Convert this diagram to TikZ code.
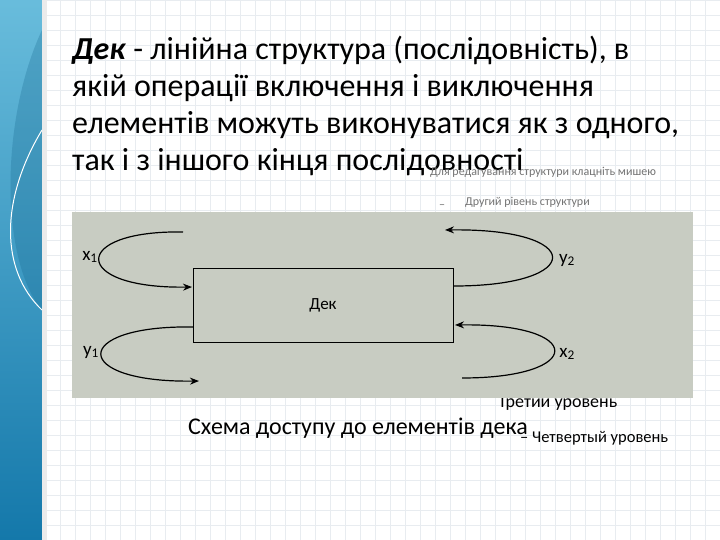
\documentclass[tikz,border=0pt]{standalone}
\usepackage{fontspec}
\setmainfont{Carlito}
\usetikzlibrary{arrows.meta}
\definecolor{photo}{RGB}{200,204,194}
\definecolor{blueA}{RGB}{40,160,205}
\definecolor{blueB}{RGB}{20,120,170}
\definecolor{gridc}{RGB}{232,236,240}
\tikzset{
  arr/.style={line width=1.2pt,-{Stealth[length=9pt,width=7pt]}},
  lab/.style={font=\fontsize{19}{19}\selectfont, inner sep=0pt},
  big/.style={font=\fontsize{32}{36}\selectfont, anchor=base west, inner sep=0pt},
  small/.style={anchor=base west, inner sep=0pt, font=\fontsize{12}{12}\selectfont, text=black!55},
}
\begin{document}
\begin{tikzpicture}[x=1pt,y=-1pt]
\useasboundingbox (0,0) rectangle (720,540);
\fill[white] (0,0) rectangle (720,540);
\foreach \i in {0,15,...,720} \draw[gridc,line width=0.5pt] (\i,0) -- (\i,540);
\foreach \i in {0,15,...,540} \draw[gridc,line width=0.5pt] (0,\i) -- (720,\i);
\shade[top color=blueA!70!white, bottom color=blueB] (0,0) rectangle (42,540);
\fill[blueB!80!black, opacity=0.25] (42,30) .. controls (0,120) and (0,260) .. (42,310) -- cycle;
\draw[white, line width=1pt] (42,130) .. controls (0,200) and (0,270) .. (42,310);
\fill[black!8] (42,0) rectangle (47,540);
% texts
\node[big] (t1) at (72,60) {\textbf{\textit{Дек}} - лінійна структура (послідовність), в};
\node[big] (t2) at (72,97) {якій операції включення і виключення};
\node[big] (t3) at (72,134) {елементів можуть виконуватися як з одного,};
\node[big] (t4) at (72,171) {так і з іншого кінця послідовності};
\node[small] (s1) at (430,176) {Для редагування структури клацніть мишею};
\node[small] (s0) at (439,208) {–};
\node[small] (s2) at (465,206) {Другий рівень структури};
\node[anchor=base west, inner sep=0pt, font=\fontsize{18}{18}\selectfont] (s3) at (498,407) {Третий уровень};
% photo
\fill[photo] (72,212) rectangle (693,398);
\node[draw, line width=1pt, minimum width=260pt, minimum height=74pt, font=\fontsize{17}{17}\selectfont] (dek) at (323,305) {Дек};
\coordinate (a1) at (183,232); \coordinate (a2) at (192,287);
\coordinate (b1) at (193,327); \coordinate (b2) at (199,381);
\coordinate (c1) at (454,286); \coordinate (c2) at (445,230);
\coordinate (d1) at (462,378); \coordinate (d2) at (455,325);
\draw[arr] (a1) .. controls (70,230) and (70,289) .. (a2);
\draw[arr] (b1) .. controls (70,325) and (70,383) .. (b2);
\draw[arr] (c1) .. controls (586,286) and (586,228) .. (c2);
\draw[arr] (d1) .. controls (586,378) and (586,323) .. (d2);
\node[lab] (x1) at (90,257) {x\textsubscript{1}};
\node[lab] (y1) at (91,352) {y\textsubscript{1}};
\node[lab] (y2) at (567,260) {y\textsubscript{2}};
\node[lab] (x2) at (567,354) {x\textsubscript{2}};
\node[anchor=base, inner sep=0pt, font=\fontsize{24}{24}\selectfont] (cap) at (358,434) {Схема доступу до елементів дека};
\node[anchor=base west, inner sep=0pt, font=\fontsize{16.5}{16.5}\selectfont] (s4) at (520,442) {– Четвертый уровень};
\end{tikzpicture}
\end{document}
